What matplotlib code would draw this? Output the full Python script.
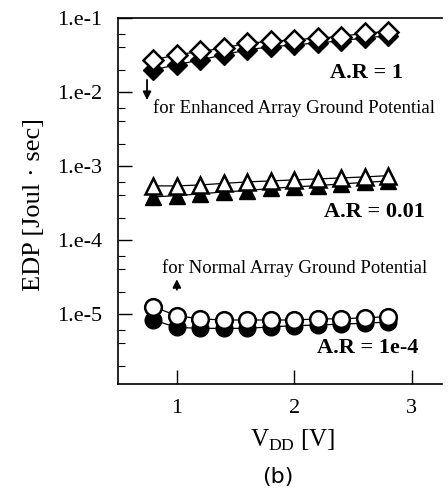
import numpy as np
import matplotlib
matplotlib.use('Agg')
import matplotlib.pyplot as plt
from matplotlib.ticker import FixedLocator, FixedFormatter, LogLocator, NullFormatter

plt.rcParams['font.family'] = ['Liberation Serif', 'DejaVu Serif']
plt.rcParams['mathtext.fontset'] = 'custom'
plt.rcParams['mathtext.rm'] = 'Liberation Serif'

# supply voltage [V]
vdd = [0.8, 1.0, 1.2, 1.4, 1.6, 1.8, 2.0, 2.2, 2.4, 2.6, 2.8]

# EDP [J*s], open = normal array ground, filled = enhanced array ground
ar1_open = [0.0270, 0.0316, 0.0351, 0.0390, 0.0455, 0.0479, 0.0505, 0.0532, 0.0559, 0.0621, 0.0653]
ar1_fill = [0.0198, 0.0232, 0.0270, 0.0316, 0.0370, 0.0406, 0.0431, 0.0459, 0.0489, 0.0537, 0.0571]

ar001_open = [5.37e-4, 5.37e-4, 5.53e-4, 5.81e-4, 6.08e-4, 6.27e-4, 6.47e-4, 6.67e-4, 6.88e-4, 7.10e-4, 7.39e-4]
ar001_fill = [3.81e-4, 3.97e-4, 4.19e-4, 4.46e-4, 4.64e-4, 4.97e-4, 5.20e-4, 5.42e-4, 5.71e-4, 5.98e-4, 6.27e-4]

ar1e4_open = [1.26e-5, 9.5e-6, 8.6e-6, 8.3e-6, 8.3e-6, 8.3e-6, 8.3e-6, 8.6e-6, 8.6e-6, 8.9e-6, 9.2e-6]
ar1e4_fill = [8.3e-6, 6.6e-6, 6.4e-6, 6.4e-6, 6.4e-6, 6.7e-6, 6.95e-6, 7.1e-6, 7.3e-6, 7.5e-6, 7.8e-6]

ytick_vals = [1e-1, 1e-2, 1e-3, 1e-4, 1e-5]
ytick_labels = ['1.e-1', '1.e-2', '1.e-3', '1.e-4', '1.e-5']
xtick_vals = [1, 2, 3]


fig = plt.figure(figsize=(4.48, 4.95), dpi=100)
ax = fig.add_axes([0.263, 0.224, 0.724, 0.740])

# filled markers underneath, open markers on top
ax.plot(vdd, ar1_fill, 'k-', lw=0.9, marker='D', ms=10, mfc='k', mec='k', zorder=2)
ax.plot(vdd, ar1_open, 'k-', lw=0.9, marker='D', ms=10, mfc='w', mec='k', mew=1.8, zorder=3)
ax.plot(vdd, ar001_fill, 'k-', lw=0.9, marker='^', ms=12, mfc='k', mec='k', zorder=2)
ax.plot(vdd, ar001_open, 'k-', lw=0.9, marker='^', ms=12, mfc='w', mec='k', mew=1.8, zorder=3)
ax.plot(vdd, ar1e4_fill, 'k-', lw=0.9, marker='o', ms=12, mfc='k', mec='k', zorder=2)
ax.plot(vdd, ar1e4_open, 'k-', lw=0.9, marker='o', ms=12, mfc='w', mec='k', mew=1.8, zorder=3)

ax.set_yscale('log')
ax.set_xlim(0.5, 3.26)
ax.set_ylim(1.13e-6, 1e-1)

ax.yaxis.set_major_locator(FixedLocator(ytick_vals))
ax.yaxis.set_major_formatter(FixedFormatter(ytick_labels))
ax.yaxis.set_minor_locator(LogLocator(base=10, subs=(2, 4, 6), numticks=20))
ax.yaxis.set_minor_formatter(NullFormatter())
ax.xaxis.set_major_locator(FixedLocator(xtick_vals))

ax.tick_params(axis='both', which='major', direction='in', length=10, width=1,
               labelsize=16)
ax.tick_params(axis='y', which='major', pad=11)
ax.tick_params(axis='x', which='major', pad=11)
ax.tick_params(axis='y', which='minor', direction='in', length=5, width=0.8)

ax.spines['right'].set_visible(False)
for s in ['left', 'top', 'bottom']:
    ax.spines[s].set_linewidth(1.2)

ax.set_xlabel(r'V$_{\mathrm{DD}}$ [V]', fontsize=18)
ax.set_ylabel('EDP [Joul · sec]', fontsize=19)
ax.xaxis.set_label_coords(0.54, -0.12)
ax.yaxis.set_label_coords(-0.225, 0.49)

# annotations
ax.text(0.767, 0.85, 'A.R = 1', transform=ax.transAxes, fontsize=16,
        fontweight='bold', ha='center', va='center')
ax.text(0.79, 0.47, 'A.R = 0.01', transform=ax.transAxes, fontsize=16,
        fontweight='bold', ha='center', va='center')
ax.text(0.77, 0.098, 'A.R = 1e-4', transform=ax.transAxes, fontsize=16,
        fontweight='bold', ha='center', va='center')

ax.text(0.108, 0.754, 'for Enhanced Array Ground Potential', transform=ax.transAxes,
        fontsize=13.5, ha='left', va='center')
ax.text(0.136, 0.317, 'for Normal Array Ground Potential', transform=ax.transAxes,
        fontsize=13.5, ha='left', va='center')

ax.annotate('', xy=(0.09, 0.768), xytext=(0.09, 0.838), xycoords='axes fraction',
            arrowprops=dict(arrowstyle='-|>', color='k', lw=1.3, mutation_scale=12))
ax.annotate('', xy=(0.182, 0.294), xytext=(0.182, 0.25), xycoords='axes fraction',
            arrowprops=dict(arrowstyle='-|>', color='k', lw=1.3, mutation_scale=12))

fig.text(0.621, 0.036, '(b)', fontsize=16, ha='center', va='center',
         family=['DejaVu Sans'])

fig.savefig('out.png', dpi=100)
